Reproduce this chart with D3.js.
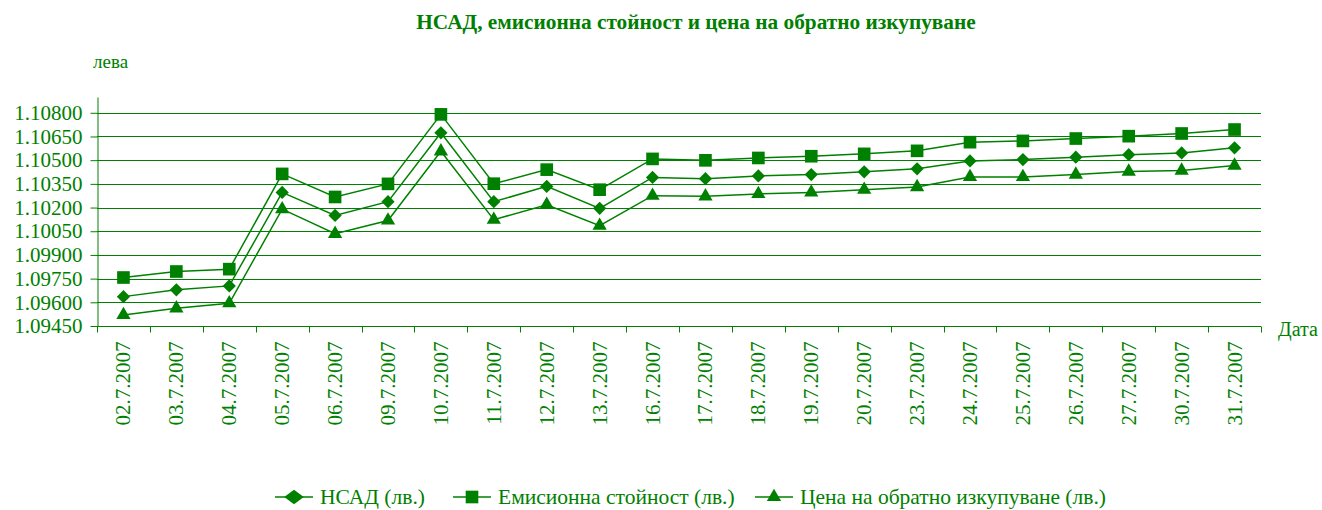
<!DOCTYPE html>
<html>
<head>
<meta charset="utf-8">
<script src="https://cdn.jsdelivr.net/npm/d3@7"></script>
<style>
  body { margin: 0; background: #fff; }
  svg { font-family: "Liberation Serif", "Times New Roman", serif; }
</style>
</head>
<body>
<div class="chart"></div>
<script>
// dates on the x axis
var dates = ["02.7.2007","03.7.2007","04.7.2007","05.7.2007","06.7.2007","09.7.2007","10.7.2007",
  "11.7.2007","12.7.2007","13.7.2007","16.7.2007","17.7.2007","18.7.2007","19.7.2007","20.7.2007",
  "23.7.2007","24.7.2007","25.7.2007","26.7.2007","27.7.2007","30.7.2007","31.7.2007"]

var nav = [1.09636,1.09679,1.09704,1.10296,1.10150,1.10237,1.10673,
  1.10237,1.10334,1.10195,1.10391,1.10383,1.10400,1.10409,1.10426,
  1.10445,1.10495,1.10504,1.10519,1.10535,1.10546,1.10578]

var emission = [1.09757,1.09795,1.09810,1.10413,1.10267,1.10350,1.10790,
  1.10351,1.10440,1.10313,1.10508,1.10499,1.10514,1.10525,1.10540,
  1.10559,1.10614,1.10622,1.10637,1.10652,1.10669,1.10694]

var redemption = [1.09520,1.09562,1.09594,1.10190,1.10034,1.10118,1.10556,
  1.10123,1.10218,1.10085,1.10275,1.10271,1.10286,1.10296,1.10313,
  1.10330,1.10394,1.10394,1.10409,1.10428,1.10434,1.10466]

var yTicks = [1.0945,1.0960,1.0975,1.0990,1.1005,1.1020,1.1035,1.1050,1.1065,1.1080]

var seriesNames = ["НСАД (лв.)","Емисионна стойност (лв.)","Цена на обратно изкупуване (лв.)"]

var green = "#008000"
var W = 1322, H = 510

var svg = d3.select(".chart").append("svg")
  .attr("width", W).attr("height", H)

var x = d3.scaleBand().domain(dates).range([97, 1261])
var y = d3.scaleLinear().domain([1.0945, 1.1090]).range([326, 97])

// title and axis captions
svg.append("text").text("НСАД, емисионна стойност и цена на обратно изкупуване")
  .attr("x", 696).attr("y", 29).attr("text-anchor", "middle")
  .attr("font-size", 21.3).attr("font-weight", "bold").attr("fill", green)
svg.append("text").text("лева").attr("x", 93).attr("y", 68)
  .attr("font-size", 19).attr("fill", green)
svg.append("text").text("Дата").attr("x", 1278).attr("y", 336)
  .attr("font-size", 20).attr("fill", green)

// grid
svg.append("g").selectAll("line").data(yTicks).enter().append("line")
  .attr("x1", 97).attr("x2", 1261)
  .attr("y1", d => Math.round(y(d)) + 0.5).attr("y2", d => Math.round(y(d)) + 0.5)
  .attr("stroke", green).attr("stroke-width", 1)

// y axis
var axisY = svg.append("g").attr("transform", "translate(97.5,0)")
axisY.call(d3.axisLeft(y).tickValues(yTicks).tickFormat(d3.format(".5f")).tickSizeInner(7).tickSizeOuter(0))
axisY.select(".domain").attr("stroke", green)
axisY.selectAll(".tick line").attr("stroke", green)
axisY.selectAll(".tick text").attr("fill", green).attr("font-size", 21)
  .attr("font-family", "Liberation Serif").attr("x", -15)

// x axis
var axisX = svg.append("g").attr("transform", "translate(0,326.5)")
axisX.append("line").attr("x1", 97).attr("x2", 1261).attr("stroke", green)
var bounds = d3.range(dates.length + 1).map(i => 97 + i * x.step())
axisX.selectAll(".tk").data(bounds).enter().append("line")
  .attr("x1", d => Math.round(d) + 0.5).attr("x2", d => Math.round(d) + 0.5)
  .attr("y1", 0).attr("y2", 6).attr("stroke", green)
axisX.selectAll(".lbl").data(dates).enter().append("text")
  .text(d => d)
  .attr("transform", d => "translate(" + (x(d) + x.bandwidth() / 2 + 7) + ",15) rotate(-90)")
  .attr("text-anchor", "end").attr("font-size", 21).attr("fill", green)

// series (diamond = rotated square)
var series = [
  {name: seriesNames[0], values: nav, symbol: d3.symbolSquare, size: 88, rot: 45},
  {name: seriesNames[1], values: emission, symbol: d3.symbolSquare, size: 160, rot: 0},
  {name: seriesNames[2], values: redemption, symbol: d3.symbolTriangle, size: 88, rot: 0}
]

var cx = (d, i) => x(dates[i]) + x.bandwidth() / 2
var line = d3.line().x(cx).y(d => y(d))

series.forEach(function(s) {
  var g = svg.append("g")
  g.append("path").attr("d", line(s.values))
    .attr("fill", "none").attr("stroke", green).attr("stroke-width", 1.5)
  g.selectAll("path.m").data(s.values).enter().append("path")
    .attr("class", "m")
    .attr("d", d3.symbol().type(s.symbol).size(s.size))
    .attr("transform", (d, i) => "translate(" + cx(d, i) + "," + y(d) + ") rotate(" + s.rot + ")")
    .attr("fill", green)
})

// legend
var legendX = [275, 453, 755]
series.forEach(function(s, i) {
  var lg = svg.append("g").attr("transform", "translate(" + legendX[i] + ",497)")
  lg.append("line").attr("x1", 0).attr("x2", 38).attr("stroke", green).attr("stroke-width", 1.5)
  lg.append("path").attr("d", d3.symbol().type(s.symbol).size(s.rot ? 105 : s.size))
    .attr("transform", "translate(19,0)" + (s.rot ? " scale(1.35,1) rotate(45)" : ""))
    .attr("fill", green)
  lg.append("text").text(s.name).attr("x", 45).attr("y", 7)
    .attr("font-size", 21.5).attr("fill", green)
})
</script>
</body>
</html>
